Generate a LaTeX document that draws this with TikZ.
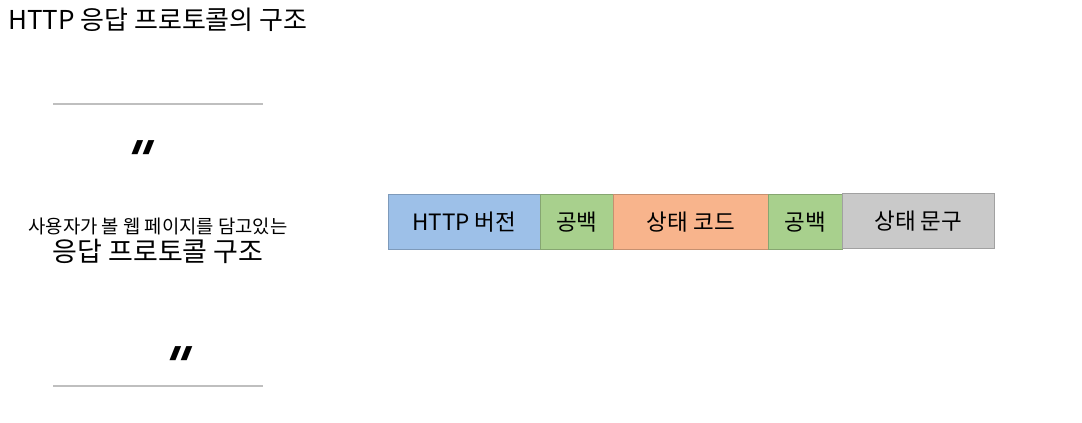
\documentclass[tikz,border=0pt]{standalone}
\usepackage{fontspec}
\setmainfont{Noto Sans CJK KR}
\newfontfamily\quotefont{DejaVu Sans}[UprightFont=* Bold, FakeSlant=0.4]
\begin{document}
\begin{tikzpicture}[x=1pt,y=-1pt,
  seg/.style={draw=#1!80!black, line width=0.6pt, minimum height=55pt, inner sep=0pt, anchor=north west, font=\fontsize{22.5}{22.5}\selectfont},
  rule/.style={draw=black!25, line width=1.2pt},
  qmark/.style={font=\quotefont\fontsize{52}{52}\selectfont, inner sep=0pt}]
\useasboundingbox (0,0) rectangle (1082,423);
\definecolor{cblue}{HTML}{9DC0E8}
\definecolor{cgreen}{HTML}{A8D08D}
\definecolor{corange}{HTML}{F8B48C}
\definecolor{cgray}{HTML}{C9C9C9}
\node[anchor=west, inner sep=0pt, font=\fontsize{26}{26}\selectfont] (title) at (8,20) {HTTP 응답 프로토콜의 구조};
\draw[rule] (53,104) coordinate (l1a) -- (263,104) coordinate (l1b);
\draw[rule] (53,386) coordinate (l2a) -- (263,386) coordinate (l2b);
\node[qmark] (q1) at (131,160) {"};
\node[qmark] (q2) at (169,366) {"};
\node[inner sep=0pt, font=\fontsize{18.8}{18.8}\selectfont] (sub1) at (158,226) {사용자가 볼 웹 페이지를 담고있는};
\node[inner sep=0pt, font=\fontsize{27}{27}\selectfont] (sub2) at (158,251) {응답 프로토콜 구조};
\node[seg=cblue, fill=cblue, minimum width=152pt] (v) at (388,194) {HTTP 버전};
\node[seg=cgreen, fill=cgreen, minimum width=73pt] (s1) at (540,194) {공백};
\node[seg=corange, fill=corange, minimum width=155pt] (c) at (613,194) {상태 코드};
\node[seg=cgreen, fill=cgreen, minimum width=74pt] (s2) at (768,194) {공백};
\node[seg=cgray, fill=cgray, minimum width=152pt] (p) at (842,193) {상태 문구};
\end{tikzpicture}
\end{document}
